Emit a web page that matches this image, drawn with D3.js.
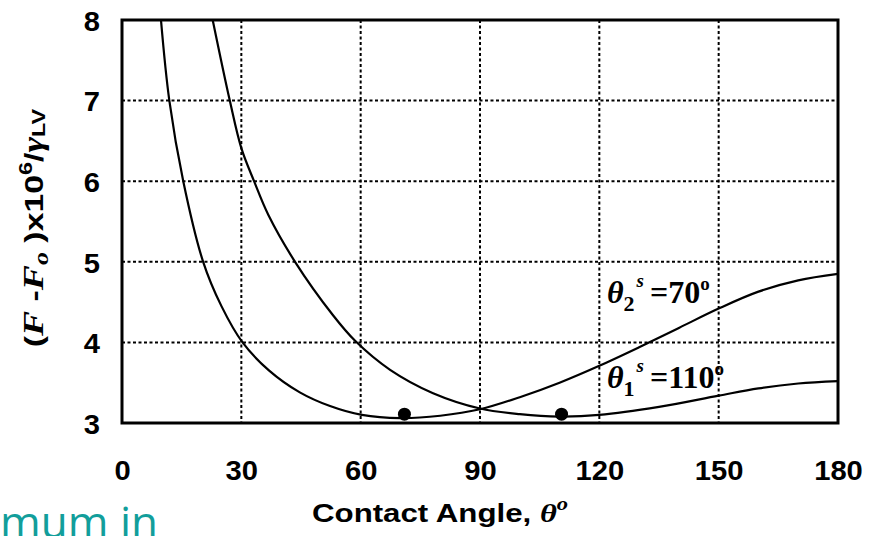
<!DOCTYPE html>
<html>
<head>
<meta charset="utf-8">
<script src="https://cdn.jsdelivr.net/npm/d3@7/dist/d3.min.js"></script>
<style>
  body { margin: 0; background: #fff; }
  svg { display: block; }
</style>
</head>
<body>
<div class="chart"></div>
<script>
// values
var xTicks = [0, 30, 60, 90, 120, 150, 180];
var yTicks = [3, 4, 5, 6, 7, 8];

// theta_2^s = 70 deg curve (minimum near 70)
var curve2 = [
  [9.8, 8], [11.9, 7], [15.4, 6], [20.4, 5], [25, 4.45], [30.3, 4.0],
  [37, 3.65], [44.7, 3.38], [52.3, 3.21], [60.3, 3.10], [70, 3.06],
  [80, 3.09], [90, 3.17], [100, 3.32], [110, 3.50], [120, 3.71],
  [130, 3.94], [140, 4.18], [150, 4.42], [160, 4.63], [170, 4.77], [180, 4.85]
];

// theta_1^s = 110 deg curve (minimum near 110)
var curve1 = [
  [22.8, 8], [27.1, 7], [30, 6.41], [33.2, 6], [36.8, 5.58], [43.5, 5],
  [53, 4.34], [58.6, 4.02], [67.4, 3.66], [78.2, 3.37], [90, 3.18],
  [100, 3.11], [110, 3.08], [120, 3.10], [135, 3.20], [150, 3.34],
  [160, 3.43], [170, 3.49], [180, 3.52]
];

var minima = [[71, 3.11], [110.5, 3.11]];

var svgWidth = 883;
var svgHeight = 536;

var margin = { top: 20, right: 45, bottom: 113, left: 122 };
var width = svgWidth - margin.left - margin.right;
var height = svgHeight - margin.top - margin.bottom;

var svg = d3.select(".chart")
  .append("svg")
  .attr("width", svgWidth)
  .attr("height", svgHeight);

var chartGroup = svg.append("g")
  .attr("transform", `translate(${margin.left}, ${margin.top})`);

var x = d3.scaleLinear().domain([0, 180]).range([0, width]);
var y = d3.scaleLinear().domain([3, 8]).range([height, 0]);

var serif = "'Times New Roman', 'Liberation Serif', serif";
var sans = "Arial, 'Liberation Sans', sans-serif";

// dotted grid
chartGroup.selectAll(".vgrid")
  .data(xTicks.slice(1, -1))
  .enter()
  .append("line")
  .attr("x1", d => x(d)).attr("x2", d => x(d))
  .attr("y1", 0).attr("y2", height)
  .attr("stroke", "#000")
  .attr("stroke-width", 2)
  .attr("stroke-dasharray", "3,2.5");

chartGroup.selectAll(".hgrid")
  .data(yTicks.slice(1, -1))
  .enter()
  .append("line")
  .attr("x1", 0).attr("x2", width)
  .attr("y1", d => y(d)).attr("y2", d => y(d))
  .attr("stroke", "#000")
  .attr("stroke-width", 2)
  .attr("stroke-dasharray", "3,2.5");

// axes (labels only, no tick marks)
var bottomAxis = d3.axisBottom(x).tickValues(xTicks).tickFormat(d3.format("d")).tickSize(0).tickPadding(0);
var leftAxis = d3.axisLeft(y).tickValues(yTicks).tickFormat(d3.format("d")).tickSize(0).tickPadding(0);

var xg = chartGroup.append("g")
  .attr("transform", `translate(0, ${height})`)
  .call(bottomAxis);
xg.select(".domain").remove();
xg.selectAll("text")
  .attr("y", 0)
  .attr("dy", 0)
  .attr("transform", "translate(0, 57) scale(1.08, 1)")
  .attr("font-family", sans)
  .attr("font-weight", "bold")
  .attr("font-size", 27)
  .attr("fill", "#000");

var yg = chartGroup.append("g").call(leftAxis);
yg.select(".domain").remove();
yg.selectAll("text")
  .attr("x", 0)
  .attr("dy", "0.38em")
  .attr("transform", "translate(-22, 0) scale(1.08, 1)")
  .attr("font-family", sans)
  .attr("font-weight", "bold")
  .attr("font-size", 27)
  .attr("fill", "#000");

var line = d3.line()
  .x(d => x(d[0]))
  .y(d => y(d[1]))
  .curve(d3.curveCatmullRom.alpha(0.5));

chartGroup.append("clipPath").attr("id", "plotclip")
  .append("rect").attr("width", width).attr("height", height);

[curve1, curve2].forEach(function (c) {
  chartGroup.append("path")
    .datum(c)
    .attr("d", line)
    .attr("fill", "none")
    .attr("stroke", "#000")
    .attr("stroke-width", 2.2)
    .attr("clip-path", "url(#plotclip)");
});

chartGroup.selectAll(".minDot")
  .data(minima)
  .enter()
  .append("circle")
  .attr("cx", d => x(d[0]))
  .attr("cy", d => y(d[1]))
  .attr("r", 6.5)
  .attr("fill", "#000");

// plot frame
chartGroup.append("rect")
  .attr("width", width)
  .attr("height", height)
  .attr("fill", "none")
  .attr("stroke", "#000")
  .attr("stroke-width", 3);

// curve labels
function curveLabel(px, py, sub, val) {
  var t = svg.append("text")
    .attr("x", px).attr("y", py)
    .attr("font-family", serif)
    .attr("font-weight", "bold")
    .attr("font-size", 32)
    .attr("fill", "#000");
  t.append("tspan").attr("font-style", "italic").text("\u03b8");
  t.append("tspan").attr("font-size", 22).attr("dy", 8).text(sub);
  t.append("tspan").attr("font-size", 19).attr("font-style", "italic").attr("dy", -24).attr("dx", 2).text("s");
  t.append("tspan").attr("dy", 16).attr("dx", 6).text("=" + val);
  t.append("tspan").attr("font-size", 19).attr("dy", -13).text("o");
}
curveLabel(607, 303, "2", "70");
curveLabel(607, 388, "1", "110");

// x axis title
var xt = svg.append("text")
  .attr("transform", "translate(312, 522) scale(1.25, 1)")
  .attr("font-family", sans)
  .attr("font-weight", "bold")
  .attr("font-size", 25)
  .attr("fill", "#000");
xt.append("tspan").text("Contact Angle, ");
xt.append("tspan").attr("font-family", serif).attr("font-style", "italic").attr("font-size", 26).text("\u03b8");
xt.append("tspan").attr("font-family", serif).attr("font-style", "italic").attr("font-size", 18).attr("dy", -12).text("o");

// y axis title
var yt = svg.append("text")
  .attr("transform", "translate(43, 228) rotate(-90) scale(1.3, 1)")
  .attr("text-anchor", "middle")
  .attr("font-family", sans)
  .attr("font-weight", "bold")
  .attr("font-size", 26)
  .attr("fill", "#000");
yt.append("tspan").text("(");
yt.append("tspan").attr("font-family", serif).attr("font-style", "italic").attr("font-size", 29).text("F");
yt.append("tspan").text(" -");
yt.append("tspan").attr("font-family", serif).attr("font-style", "italic").attr("font-size", 29).text("F");
yt.append("tspan").attr("font-family", serif).attr("font-style", "italic").attr("font-size", 20).attr("dy", 5).text("o");
yt.append("tspan").attr("dy", -5).text(" )x10");
yt.append("tspan").attr("font-size", 18).attr("dy", -11).text("6");
yt.append("tspan").attr("dy", 11).text("/");
yt.append("tspan").attr("font-family", serif).attr("font-style", "italic").attr("font-size", 29).text("\u03b3");
yt.append("tspan").attr("font-size", 18).attr("dy", 2).text("LV");

// clipped slide text at bottom left
svg.append("text")
  .attr("x", 0).attr("y", 538)
  .attr("font-family", "'Open Sans', 'Noto Sans', sans-serif")
  .attr("font-size", 44)
  .attr("fill", "#129e9b")
  .text("mum in");
</script>
</body>
</html>
